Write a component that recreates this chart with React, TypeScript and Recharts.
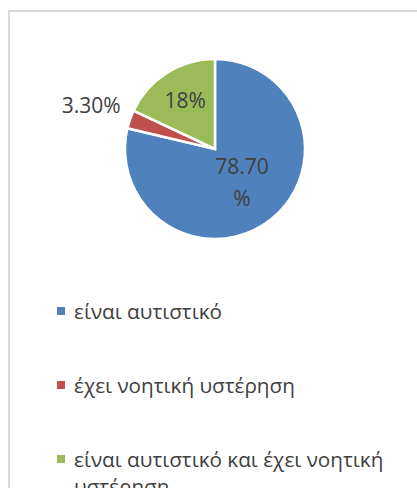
import React from "react";
import { PieChart, Pie, Cell, Legend } from "recharts";

const categories = ["είναι αυτιστικό", "έχει νοητική υστέρηση", "είναι αυτιστικό και έχει νοητική υστέρηση"];
const shares = [78.7, 3.3, 18];
const valueLabels = ["78.70%", "3.30%", "18%"];
const colors = ["#4f81bd", "#c0504d", "#9bbb59"];

// how far from the centre each label sits, as a share of the radius
const labelRadius = [0.465, 1.47, 0.64];

const data = categories.map((name, i) => ({ name, value: shares[i] }));

const FONT = "'Open Sans', sans-serif";
const TEXT = "#404040";

function renderLabel(props: any) {
  const { cx, cy, midAngle, outerRadius, index } = props;
  const RAD = Math.PI / 180;
  const r = outerRadius * labelRadius[index];
  const x = cx + r * Math.cos(-midAngle * RAD);
  const y = cy + r * Math.sin(-midAngle * RAD);
  const text = valueLabels[index];
  // the big slice label wraps before the % sign, like in the original
  const lines = index === 0 ? [text.slice(0, -1), "%"] : [text];
  const lh = 32;
  const y0 = y - ((lines.length - 1) * lh) / 2;
  return (
    <text x={x + 1} y={y0} fill={TEXT} fontSize={21} fontFamily={FONT} textAnchor="middle" dominantBaseline="central">
      {lines.map((l, k) => (
        <tspan key={k} x={x + 1} y={y0 + k * lh}>
          {l}
        </tspan>
      ))}
    </text>
  );
}

function LegendList() {
  return (
    <div style={{ fontFamily: FONT, fontSize: 20.7, color: TEXT, lineHeight: "27px" }}>
      {categories.map((c, i) => (
        <div key={c} style={{ display: "flex", alignItems: "flex-start", height: 74 }}>
          <div style={{ width: 8, height: 8, background: colors[i], marginTop: 9.5, marginRight: 9, flexShrink: 0 }} />
          <div style={{ width: 330 }}>{c}</div>
        </div>
      ))}
    </div>
  );
}

export default function App() {
  return (
    <div style={{ position: "fixed", left: 0, top: 0, width: 417, height: 488, overflow: "hidden", background: "#fff" }}>
      <div style={{ position: "absolute", left: 8, top: 10, width: 440, height: 520, border: "2px solid #d9d9d9" }}>
        <PieChart width={440} height={520} margin={{ top: 0, right: 0, bottom: 0, left: 0 }}>
          <Pie
            data={data}
            dataKey="value"
            nameKey="name"
            cx={205}
            cy={137}
            outerRadius={90}
            startAngle={90}
            endAngle={-270}
            stroke="#fff"
            strokeWidth={2.5}
            label={renderLabel}
            labelLine={false}
            isAnimationActive={false}
          >
            {data.map((d, i) => (
              <Cell key={d.name} fill={colors[i]} />
            ))}
          </Pie>
          <Legend content={<LegendList />} wrapperStyle={{ left: 47, top: 285.5, width: 380 }} />
        </PieChart>
      </div>
    </div>
  );
}
